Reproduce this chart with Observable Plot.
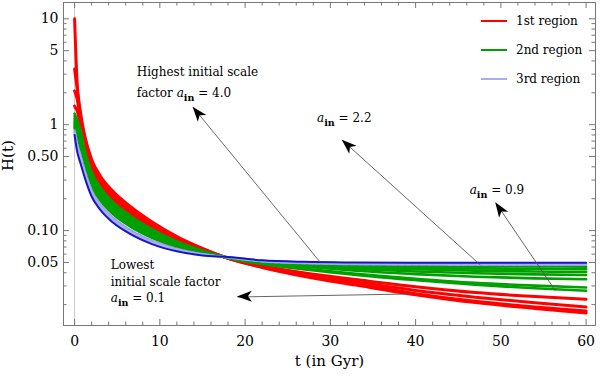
<!DOCTYPE html>
<html><head><meta charset="utf-8">
<script src="https://cdn.jsdelivr.net/npm/d3@7"></script>
<script src="https://cdn.jsdelivr.net/npm/@observablehq/plot@0.6"></script>
<style>body{margin:0;background:#fff} #chart{width:600px;height:376px}</style>
</head><body><div id="chart"></div>
<script>
// time samples (Gyr)
const tGyr = [0, 0.3, 0.7, 1.2, 2, 3, 4.5, 6.5, 9, 12, 15, 18, 22, 27, 33, 40, 47, 54, 60];

// 1st region (red)
const red1 = [10, 2.5, 1.3, 0.78, 0.47, 0.33, 0.235, 0.17, 0.122, 0.088, 0.068, 0.0547, 0.0449, 0.0369, 0.0306, 0.0248, 0.0209, 0.0184, 0.0167];
const red2 = [3.35, 2.2, 1.194, 0.728, 0.442, 0.312, 0.2235, 0.1625, 0.1178, 0.0859, 0.0672, 0.0548, 0.0453, 0.0376, 0.0314, 0.0254, 0.0215, 0.019, 0.0174];
const red3 = [2.08, 1.75, 1.085, 0.674, 0.413, 0.293, 0.211, 0.1545, 0.1131, 0.0836, 0.0664, 0.0549, 0.0459, 0.0386, 0.0328, 0.0272, 0.0235, 0.0208, 0.019];
const red4 = [1.5, 1.35, 0.976, 0.618, 0.383, 0.274, 0.198, 0.1462, 0.1081, 0.0811, 0.0655, 0.055, 0.0467, 0.0397, 0.0345, 0.0295, 0.026, 0.0238, 0.0225];
// 2nd region (green)
const green1 = [1.27, 1.1, 0.887, 0.572, 0.358, 0.257, 0.187, 0.1389, 0.1039, 0.0789, 0.0646, 0.0551, 0.0483, 0.043, 0.0382, 0.0341, 0.0308, 0.0285, 0.027];
const green2 = [1.2, 1.02, 0.824, 0.539, 0.339, 0.245, 0.179, 0.1335, 0.1007, 0.0772, 0.064, 0.0552, 0.0486, 0.0436, 0.039, 0.0351, 0.0321, 0.0302, 0.029];
const green3 = [1.14, 0.95, 0.765, 0.507, 0.322, 0.233, 0.1714, 0.1284, 0.0975, 0.0756, 0.0633, 0.0554, 0.0494, 0.0455, 0.0418, 0.0388, 0.0367, 0.0354, 0.0347];
const green4 = [1.08, 0.88, 0.71, 0.478, 0.305, 0.222, 0.164, 0.1235, 0.0945, 0.0741, 0.0627, 0.0555, 0.0498, 0.0464, 0.0435, 0.0411, 0.0396, 0.0386, 0.0381];
const green5 = [1.03, 0.82, 0.659, 0.45, 0.289, 0.212, 0.157, 0.1187, 0.0916, 0.0725, 0.0621, 0.0556, 0.0502, 0.0472, 0.0449, 0.0431, 0.0419, 0.0411, 0.0406];
const green6 = [0.98, 0.77, 0.612, 0.423, 0.274, 0.202, 0.15, 0.1141, 0.0888, 0.071, 0.0615, 0.0557, 0.0506, 0.048, 0.0462, 0.0449, 0.044, 0.0436, 0.0433];
const green7 = [0.94, 0.72, 0.568, 0.399, 0.26, 0.192, 0.1437, 0.1098, 0.0861, 0.0695, 0.0609, 0.0558, 0.051, 0.0488, 0.0475, 0.0467, 0.0462, 0.0459, 0.0456];
// 3rd region (blue)
const blue1 = [0.88, 0.66, 0.51, 0.365, 0.24, 0.178, 0.133, 0.102, 0.081, 0.0672, 0.06, 0.0559, 0.0513, 0.0492, 0.0482, 0.0478, 0.0476, 0.0476, 0.0476];
const blue2 = [0.84, 0.61, 0.47, 0.34, 0.226, 0.168, 0.126, 0.097, 0.078, 0.0655, 0.0592, 0.056, 0.0518, 0.0499, 0.049, 0.0487, 0.0486, 0.0486, 0.0486];
const blue3 = [0.8, 0.56, 0.43, 0.315, 0.21, 0.158, 0.119, 0.093, 0.075, 0.0637, 0.0583, 0.0562, 0.0524, 0.0507, 0.05, 0.0497, 0.0496, 0.0496, 0.0496];

// ticks
const xMajor = [0, 10, 20, 30, 40, 50, 60];
const xMinor = [2, 4, 6, 8, 12, 14, 16, 18, 22, 24, 26, 28, 32, 34, 36, 38, 42, 44, 46, 48, 52, 54, 56, 58];
const yMajor = [0.05, 0.1, 0.5, 1, 5, 10];
const yMajorLabels = ["0.05", "0.10", "0.50", "1", "5", "10"];
const yMinor = [0.02, 0.03, 0.04, 0.06, 0.07, 0.08, 0.09, 0.2, 0.3, 0.4, 0.6, 0.7, 0.8, 0.9, 2, 3, 4, 6, 7, 8, 9];

// legend
const legendNames = ["1st region", "2nd region", "3rd region"];
const legendColors = ["#ff0000", "#00a000", "#a9adf0"];

// annotations: arrows (tail on curve -> head near label)
const arrowT1 = [28.8, 47.6, 56.4, 39.4];
const arrowH1 = [0.0504, 0.0473, 0.027, 0.0252];
const arrowT2 = [13.9, 31.4, 49.4, 19.1];
const arrowH2 = [1.46, 0.714, 0.183, 0.0236];

// text labels: position (t, H) and segments
const labelT = [7.35, 7.35, 28.5, 46.4, 4.3, 4.3, 4.3];
const labelH = [3.13, 1.98, 1.15, 0.241, 0.0473, 0.032, 0.0226];
const labelSegs = [
  [["Highest initial scale"]],
  [["factor "], ["a", "i"], ["in", "s"], [" = 4.0"]],
  [["a", "i"], ["in", "s"], [" = 2.2"]],
  [["a", "i"], ["in", "s"], [" = 0.9"]],
  [["Lowest"]],
  [["initial scale factor"]],
  [["a", "i"], ["in", "s"], [" = 0.1"]]
];

const W = 600, Hh = 376, mL = 63, mR = 5, mT = 2, mB = 51;
const plotW = W - mL - mR, plotH = Hh - mT - mB;

const rows = (vals) => tGyr.map((t, i) => ({t, H: vals[i]}));
const lineMark = (vals, stroke, sw, extra = {}) =>
  Plot.line(rows(vals), {x: "t", y: "H", stroke, strokeWidth: sw, curve: "monotone-x", ...extra});

const arrows = arrowT1.map((t, i) => ({t1: t, h1: arrowH1[i], t2: arrowT2[i], h2: arrowH2[i]}));

function overlay(index, scales, values, dims) {
  const g = d3.create("svg:g");
  // arrow heads
  for (const a of arrows) {
    const x1 = scales.x(a.t1), y1 = scales.y(a.h1), x2 = scales.x(a.t2), y2 = scales.y(a.h2);
    const ang = Math.atan2(y2 - y1, x2 - x1) * 180 / Math.PI;
    g.append("path").attr("d", "M0,0L-15,-5.5L-11,0L-15,5.5Z")
      .attr("transform", `translate(${x2},${y2}) rotate(${ang})`).attr("fill", "#000");
  }
  // rich labels
  labelSegs.forEach((segs, i) => {
    const tx = g.append("text").attr("x", scales.x(labelT[i])).attr("y", scales.y(labelH[i]) + 4)
      .attr("text-anchor", "start")
      .attr("font-family", "DejaVu Serif").attr("font-size", 12).attr("fill", "#000");
    let shifted = false;
    for (const [txt, kind] of segs) {
      const sp = tx.append("tspan").text(txt);
      if (kind === "i") sp.attr("font-style", "italic");
      if (kind === "s") { sp.attr("font-size", 9.5).attr("font-weight", "bold").attr("dy", 4); shifted = true; }
      else if (shifted) { sp.attr("dy", -4); shifted = false; }
    }
  });
  // legend
  const x0 = dims.width - dims.marginRight - 114;
  legendNames.forEach((name, i) => {
    const y = dims.marginTop + 19 + i * 29;
    g.append("line").attr("x1", x0).attr("x2", x0 + 26).attr("y1", y).attr("y2", y)
      .attr("stroke", legendColors[i]).attr("stroke-width", 2);
    g.append("text").attr("x", x0 + 35).attr("y", y + 4).text(name)
      .attr("text-anchor", "start")
      .attr("font-family", "DejaVu Serif").attr("font-size", 12).attr("fill", "#000");
  });
  return g.node();
}

const tickStroke = "#777";
const chart = Plot.plot({
  width: W, height: Hh,
  marginLeft: mL, marginRight: mR, marginTop: mT, marginBottom: mB,
  style: {fontFamily: "DejaVu Serif", fontSize: "14px", background: "#fff", color: "#000"},
  x: {domain: [-1.3, 61.1]},
  y: {type: "log", domain: [0.0127, 14.25], axis: null},
  marks: [
    Plot.ruleX([0], {stroke: "#c8c8c8", strokeWidth: 1}),
    lineMark(red4, "#ff0000", 3),
    lineMark(red3, "#ff0000", 3),
    lineMark(red2, "#ff0000", 3),
    lineMark(red1, "#ff0000", 3),
    lineMark(green1, "#00a000", 2.6),
    lineMark(green2, "#00a000", 2.6),
    lineMark(green3, "#00a000", 2.6),
    lineMark(green4, "#00a000", 2.6),
    lineMark(green5, "#00a000", 2.6),
    lineMark(green6, "#00a000", 2.6),
    lineMark(green7, "#00a000", 2.6),
    lineMark(blue1, "#9aa0ee", 2.4, {strokeDasharray: "5,2"}),
    lineMark(blue2, "#a9adf0", 2.6),
    lineMark(blue3, "#1515c8", 2),
    Plot.frame({stroke: tickStroke}),
    Plot.tickX(xMajor, {x: d => d, stroke: tickStroke, insetTop: plotH - 6}),
    Plot.tickX(xMajor, {x: d => d, stroke: tickStroke, insetBottom: plotH - 6}),
    Plot.tickX(xMinor, {x: d => d, stroke: tickStroke, insetTop: plotH - 3.5}),
    Plot.tickX(xMinor, {x: d => d, stroke: tickStroke, insetBottom: plotH - 3.5}),
    Plot.tickY(yMajor, {y: d => d, stroke: tickStroke, insetRight: plotW - 6}),
    Plot.tickY(yMajor, {y: d => d, stroke: tickStroke, insetLeft: plotW - 6}),
    Plot.tickY(yMinor, {y: d => d, stroke: tickStroke, insetRight: plotW - 3.5}),
    Plot.tickY(yMinor, {y: d => d, stroke: tickStroke, insetLeft: plotW - 3.5}),
    Plot.axisX(xMajor, {anchor: "bottom", tickSize: 0, tickPadding: 11, fontSize: 14, label: null}),
    Plot.text(yMajor, {y: d => d, text: (d, i) => yMajorLabels[i], frameAnchor: "left", textAnchor: "end", dx: -5, fontSize: 14}),
    Plot.text(["t (in Gyr)"], {text: d => d, frameAnchor: "bottom", dy: 40, fontSize: 15}),
    Plot.text(["H(t)"], {text: d => d, frameAnchor: "left", dx: -55, dy: 7, rotate: -90, fontSize: 15}),
    Plot.link(arrows, {x1: "t1", y1: "h1", x2: "t2", y2: "h2", stroke: "#555", strokeWidth: 0.9}),
    overlay
  ]
});
document.getElementById("chart").appendChild(chart);
</script>
</body></html>
